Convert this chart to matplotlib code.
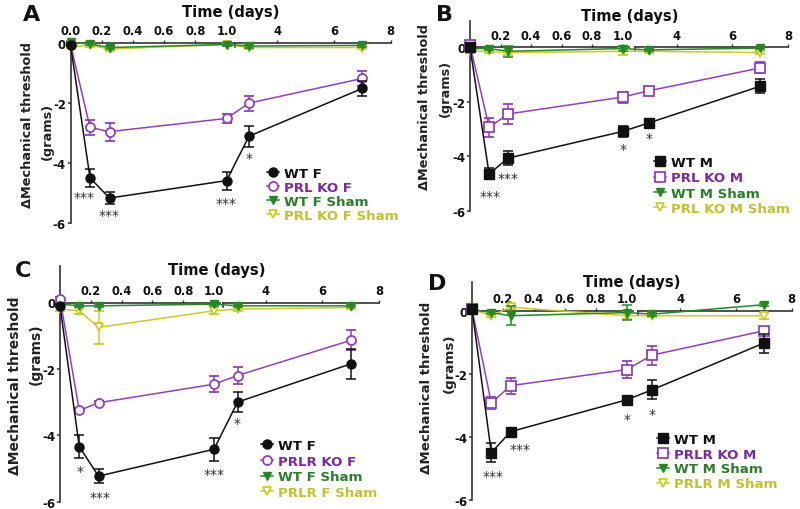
import numpy as np
import matplotlib
matplotlib.use("Agg")
import matplotlib.pyplot as plt
from matplotlib.transforms import Bbox, TransformedBbox, offset_copy

# ---------------- data ----------------
days = [0, 0.125, 0.25, 1, 3, 7]

# Panel A (female, PRL KO)
A_wt = [-0.05, -4.49, -5.16, -4.58, -3.10, -1.51]
A_wt_err = [0.05, 0.30, 0.20, 0.30, 0.35, 0.25]
A_ko = [-0.05, -2.81, -2.95, -2.51, -2.00, -1.18]
A_ko_err = [0.05, 0.25, 0.30, 0.15, 0.25, 0.25]
A_wts = [0.02, -0.03, -0.15, -0.05, -0.10, -0.08]
A_wts_err = [0.03, 0.05, 0.05, 0.05, 0.05, 0.05]
A_kos = [-0.12, -0.08, -0.20, -0.05, -0.15, -0.15]
A_kos_err = [0.03, 0.05, 0.08, 0.05, 0.05, 0.05]
A_labels = ["WT F", "PRL KO F", "WT F Sham", "PRL KO F Sham"]
A_stars = [(0.09, -5.0, "***"), (0.25, -5.6, "***"), (1.0, -5.2, "***"), (3, -3.7, "*")]

# Panel B (male, PRL KO)
B_wt = [0.0, -4.65, -4.07, -3.09, -2.78, -1.43]
B_wt_err = [0.05, 0.20, 0.25, 0.20, 0.10, 0.25]
B_ko = [0.08, -2.94, -2.45, -1.83, -1.60, -0.76]
B_ko_err = [0.05, 0.35, 0.35, 0.20, 0.08, 0.20]
B_wts = [-0.05, -0.05, -0.15, -0.05, -0.10, -0.03]
B_wts_err = [0.03, 0.05, 0.20, 0.10, 0.05, 0.05]
B_kos = [-0.15, -0.15, -0.20, -0.15, -0.15, -0.20]
B_kos_err = [0.05, 0.05, 0.10, 0.15, 0.05, 0.05]
B_labels = ["WT M", "PRL KO M", "WT M Sham", "PRL KO M Sham"]
B_stars = [(0.13, -5.3, "***"), (0.25, -4.65, "***"), (1.0, -3.6, "*"), (3, -3.2, "*")]

# Panel C (female, PRLR KO)
C_wt = [-0.10, -4.34, -5.23, -4.42, -3.00, -1.85]
C_wt_err = [0.05, 0.35, 0.20, 0.35, 0.30, 0.45]
C_ko = [0.12, -3.25, -3.02, -2.46, -2.20, -1.14]
C_ko_err = [0.05, 0.08, 0.05, 0.25, 0.25, 0.30]
C_wts = [-0.05, -0.10, -0.10, -0.05, -0.10, -0.10]
C_wts_err = [0.03, 0.05, 0.05, 0.05, 0.05, 0.05]
C_kos = [-0.20, -0.25, -0.75, -0.25, -0.20, -0.15]
C_kos_err = [0.05, 0.10, 0.50, 0.10, 0.05, 0.05]
C_labels = ["WT F", "PRLR KO F", "WT F Sham", "PRLR F Sham"]
C_stars = [(0.13, -4.95, "*"), (0.257, -5.75, "***"), (1.0, -5.05, "***"), (3, -3.5, "*")]

# Panel D (male, PRLR KO)
D_wt = [0.05, -4.50, -3.83, -2.82, -2.50, -1.02]
D_wt_err = [0.05, 0.30, 0.12, 0.10, 0.30, 0.30]
D_ko = [0.05, -2.92, -2.37, -1.86, -1.40, -0.63]
D_ko_err = [0.05, 0.20, 0.25, 0.28, 0.30, 0.08]
D_wts = [0.05, -0.05, -0.15, -0.05, -0.10, 0.20]
D_wts_err = [0.05, 0.05, 0.30, 0.25, 0.05, 0.05]
D_kos = [0.05, -0.15, 0.12, -0.15, -0.15, -0.15]
D_kos_err = [0.05, 0.05, 0.05, 0.10, 0.05, 0.10]
D_labels = ["WT M", "PRLR KO M", "WT M Sham", "PRLR M Sham"]
D_stars = [(0.136, -5.1, "***"), (0.31, -4.26, "***"), (1.0, -3.3, "*"), (3, -3.14, "*")]

xticks_left = [0.0, 0.2, 0.4, 0.6, 0.8, 1.0]
xticks_right = [4, 6, 8]
yticks = [0, -2, -4, -6]

# ---------------- style ----------------
W, H = 800, 510
BLACK = "#111111"
PURPLE = "#9040c0"
PURPLE_T = "#7a2a9e"
GREEN = "#238a23"
GREEN_T = "#2a7f2a"
YELLOW = "#cccc22"
YELLOW_T = "#c2c230"
AXC = "#333333"
plt.rcParams["font.family"] = ["DejaVu Sans"]

fig = plt.figure(figsize=(W / 100, H / 100), dpi=100)
fig.patch.set_facecolor("white")


def make_break(kL, gap, kR, xb=1.04, xr=2.5):
    a = xb * kL

    def fwd(x):
        x = np.asarray(x, dtype=float)
        return np.where(x <= xb, x * kL,
                        np.where(x < xr, a + (x - xb) / (xr - xb) * gap,
                                 a + gap + (x - xr) * kR))

    def inv(u):
        u = np.asarray(u, dtype=float)
        return np.where(u <= a, u / kL,
                        np.where(u < a + gap, xb + (u - a) / gap * (xr - xb),
                                 xr + (u - a - gap) / kR))
    return fwd, inv


def panel(layout, series, labels, stars, male, show_zero, letter, quad, texts):
    x0, kL, gap, kR, y0, yu, ytop = layout
    fwd, inv = make_break(kL, gap, kR)
    width = float(fwd(8.0))
    left, right = x0, x0 + width
    top, bottom = y0 - ytop * yu, y0 + 6 * yu
    ax = fig.add_axes([left / W, 1 - bottom / H, (right - left) / W, (bottom - top) / H])
    ax.set_xscale("function", functions=(fwd, inv))
    ax.set_xlim(0, 8)
    ax.set_ylim(-6, ytop)
    ax.patch.set_alpha(0)

    for s in ["right", "bottom"]:
        ax.spines[s].set_visible(False)
    ax.spines["top"].set_position(("data", 0))
    ax.spines["top"].set_edgecolor("none")
    ax.spines["left"].set_color(AXC)
    ax.spines["left"].set_linewidth(1.2)

    # broken x axis line
    ax.plot([0, 1.04], [0, 0], color=AXC, lw=1.2, clip_on=False, zorder=1)
    ax.plot([2.5, 8], [0, 0], color=AXC, lw=1.2, clip_on=False, zorder=1)
    ax.plot([2.5, 2.5], [0, -4.0 / yu], color=AXC, lw=1.2, clip_on=False, zorder=1)

    ticks = xticks_left + xticks_right
    ax.set_xticks(ticks)
    lab = [("%.1f" % t) if t < 2 else ("%d" % t) for t in ticks]
    if not show_zero:
        lab[0] = ""
    ax.set_xticklabels(lab)
    ax.minorticks_off()
    ax.tick_params(axis="x", which="both", top=True, bottom=False, labeltop=True,
                   labelbottom=False, direction="out", length=2.5, width=1,
                   color=AXC, pad=1.5, labelsize=8.3)
    ax.set_yticks(yticks)
    ax.set_yticklabels(["%d" % t for t in yticks])
    ax.tick_params(axis="y", direction="out", length=2.5, width=1.1, color=AXC,
                   pad=0.8, labelsize=8.5)
    for t in ax.get_xticklabels() + ax.get_yticklabels():
        t.set_fontweight("bold")
        t.set_color("#111111")

    wt, wte, ko, koe, wts, wtse, kos, kose = series
    mk = "s" if male else "o"
    eb = dict(capsize=3.3, elinewidth=1.1, capthick=1.1, clip_on=False, lw=1.1)
    h4 = ax.errorbar(days, kos, yerr=kose, color=YELLOW, marker="v", ms=6,
                     mfc="white", mec=YELLOW, mew=1.3, zorder=3, **eb)
    h3 = ax.errorbar(days, wts, yerr=wtse, color=GREEN, marker="v", ms=6,
                     mfc=GREEN, mec=GREEN, zorder=4, **eb)
    h2 = ax.errorbar(days, ko, yerr=koe, color=PURPLE, marker=mk, ms=6.5,
                     mfc="white", mec=PURPLE, mew=1.3, zorder=5, **eb)
    h1 = ax.errorbar(days, wt, yerr=wte, color=BLACK, marker=mk, ms=6.5,
                     mfc=BLACK, mec=BLACK, zorder=6, **eb)
    for h in (h1, h2, h3, h4):
        for art in (h.lines[1] or []):
            art.set_clip_on(False)
        for art in (h.lines[2] or []):
            art.set_clip_on(False)

    star_tr = offset_copy(ax.transData, fig=fig, x=0, y=-4, units="dots")
    for sx, sy, st in stars:
        ax.text(sx, sy, st, transform=star_tr, ha="center", va="center",
                fontsize=10, color="#333333")

    handles = [h1[0], h2[0], h3[0], h4[0]]
    lx, ty, lsp = texts["legend"]
    leg = ax.legend(handles, labels, loc="upper left",
                    bbox_to_anchor=(lx / W, 1 - ty / H),
                    bbox_transform=fig.transFigure, frameon=False,
                    handlelength=0.9, handletextpad=0.4, labelspacing=lsp,
                    borderpad=0, borderaxespad=0,
                    prop={"weight": "bold", "size": 9.6},
                    labelcolor=[BLACK, PURPLE_T, GREEN_T, YELLOW_T])
    clipbox = TransformedBbox(Bbox(quad), fig.transFigure)
    for t in leg.get_texts():
        t.set_clip_box(clipbox)
        t.set_clip_on(True)

    tx, tyy = texts["title"]
    fig.text(tx / W, 1 - tyy / H, "Time (days)", ha="center", va="center",
             fontsize=10.6, fontweight="bold", color="#111111")
    lxp, lyp = texts["letter"]
    fig.text(lxp / W, 1 - lyp / H, letter, ha="center", va="center",
             fontsize=16, fontweight="bold", color="#111111")
    (y1x, y1y), (y2x, y2y), ysz = texts["ylabel"]
    fig.text(y1x / W, 1 - y1y / H, "\u0394Mechanical threshold", rotation=90,
             ha="center", va="center", fontsize=ysz, fontweight="bold", color="#222222")
    fig.text(y2x / W, 1 - y2y / H, "(grams)", rotation=90,
             ha="center", va="center", fontsize=ysz, fontweight="bold", color="#222222")
    return ax


panel((70.5, 156, 2.1, 28.35, 44, 30.05, 0.1),
      (A_wt, A_wt_err, A_ko, A_ko_err, A_wts, A_wts_err, A_kos, A_kos_err),
      A_labels, A_stars, False, True, "A", [[0, 0.5], [0.5, 1]],
      {"legend": (267, 168, 0.075), "title": (231, 13), "letter": (32, 15),
       "ylabel": ((27.5, 125), (47, 131), 9.3)})
panel((470, 152.7, 6.0, 27.9, 48.2, 27.25, 0.95),
      (B_wt, B_wt_err, B_ko, B_ko_err, B_wts, B_wts_err, B_kos, B_kos_err),
      B_labels, B_stars, True, False, "B", [[0.5, 0.5], [1, 1]],
      {"legend": (654, 157, 0.17), "title": (630, 16), "letter": (445, 15),
       "ylabel": ((425, 107), (445, 88), 9.3)})
panel((60, 154, 3.2, 28.3, 303.5, 33.2, 1.1),
      (C_wt, C_wt_err, C_ko, C_ko_err, C_wts, C_wts_err, C_kos, C_kos_err),
      C_labels, C_stars, False, False, "C", [[0, 0], [0.5, 0.5]],
      {"legend": (261, 440, 0.2), "title": (217, 270), "letter": (23, 271),
       "ylabel": ((15, 386), (35.5, 354), 10.0)})
panel((472, 154.7, 5.35, 27.9, 312, 31.5, 0.92),
      (D_wt, D_wt_err, D_ko, D_ko_err, D_wts, D_wts_err, D_kos, D_kos_err),
      D_labels, D_stars, True, False, "D", [[0.5, 0], [1, 0.5]],
      {"legend": (657, 434, 0.13), "title": (632, 283), "letter": (437, 284),
       "ylabel": ((426, 388), (449, 363), 9.6)})

fig.savefig("out.png", dpi=100, facecolor="white")
